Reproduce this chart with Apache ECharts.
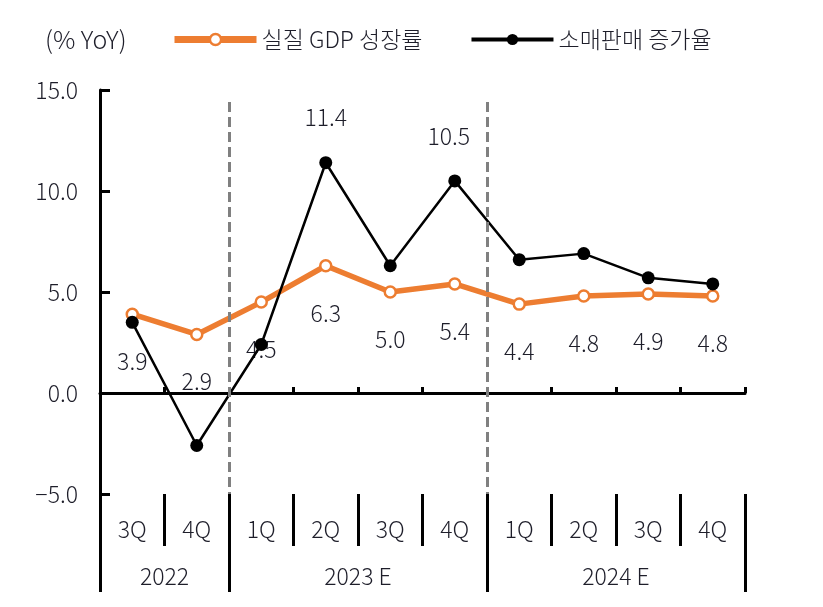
<!DOCTYPE html>
<html>
<head>
<meta charset="utf-8">
<script src="https://cdn.jsdelivr.net/npm/echarts@6/dist/echarts.min.js"></script>
<style>
html,body{margin:0;padding:0;background:#fff;}
#c{width:823px;height:607px;}
</style>
</head>
<body>
<div id="c"></div>
<script>
const quarters = ['3Q','4Q','1Q','2Q','3Q','4Q','1Q','2Q','3Q','4Q'];
const years = ['2022','2023 E','2024 E'];
const yearSpans = [2, 4, 4];
const gdpName = '실질 GDP 성장률';
const retailName = '소매판매 증가율';
const gdp = [3.9, 2.9, 4.5, 6.3, 5.0, 5.4, 4.4, 4.8, 4.9, 4.8];
const retail = [3.5, -2.6, 2.4, 11.4, 6.3, 10.5, 6.6, 6.9, 5.7, 5.4];
const retailLabeledIdx = [3, 5];
const yMin = -5, yMax = 15, yStep = 5;
const unitText = '(% YoY)';

const FONT = "'Noto Sans CJK KR', 'Noto Sans', sans-serif";
const FW = 300;
const FS = 23;
const TXT = '#1e1e2a';
const ORANGE = '#ED7D31';

// year boundaries and label centres in category units
const yearBounds = [0];
yearSpans.forEach(s => yearBounds.push(yearBounds[yearBounds.length - 1] + s));
const yearCenters = yearSpans.map((s, i) => yearBounds[i] + s / 2);
const yearLabelMap = {};
yearCenters.forEach((c, i) => { yearLabelMap[c] = years[i]; });
const dashedAt = yearBounds.slice(1, -1);

const chart = echarts.init(document.getElementById('c'), null, {renderer: 'canvas'});

const txt = (extra) => Object.assign({fontFamily: FONT, fontSize: FS, fontWeight: FW, color: TXT}, extra || {});

const option = {
  animation: false,
  backgroundColor: '#fff',
  textStyle: {fontFamily: FONT, color: TXT},
  title: {
    text: unitText, left: 45, top: 27, padding: 0,
    textStyle: txt({fontSize: 25})
  },
  legend: {
    left: 171, top: 28, padding: 0,
    itemWidth: 82, itemHeight: 14, itemGap: 47,
    textStyle: txt(),
    data: [
      {name: gdpName, lineStyle: {width: 7, color: ORANGE}, itemStyle: {color: '#fff', borderColor: ORANGE, borderWidth: 2.5}},
      {name: retailName, lineStyle: {width: 4, color: '#000'}, itemStyle: {color: '#000'}}
    ]
  },
  grid: {left: 100, right: 78, top: 90, bottom: 113, containLabel: false, outerBoundsMode: 'none'},
  xAxis: [
    {
      type: 'category', data: quarters, boundaryGap: true, position: 'bottom',
      axisLine: {show: true, onZero: true, lineStyle: {color: '#000', width: 3}},
      axisTick: {show: true, inside: true, length: 6, lineStyle: {color: '#000', width: 3}},
      axisLabel: {show: false}, splitLine: {show: false}
    },
    {
      type: 'category', data: quarters, boundaryGap: true, position: 'bottom',
      axisLine: {show: false, onZero: false},
      axisTick: {show: true, inside: false, length: 52, lineStyle: {color: '#000', width: 3}},
      axisLabel: txt({show: true, margin: 24}),
      splitLine: {show: false}
    },
    {
      type: 'value', min: 0, max: quarters.length, position: 'bottom',
      axisLine: {show: false, onZero: false},
      axisTick: {show: true, inside: false, length: 98, customValues: yearBounds, lineStyle: {color: '#000', width: 3}},
      axisLabel: txt({show: true, margin: 71, customValues: yearCenters,
        formatter: v => yearLabelMap[v] || ''}),
      splitLine: {show: false}
    }
  ],
  yAxis: {
    type: 'value', min: yMin, max: yMax, interval: yStep,
    axisLine: {show: true, onZero: false, lineStyle: {color: '#000', width: 3}},
    axisTick: {show: true, inside: true, length: 10, lineStyle: {color: '#000', width: 3}},
    axisLabel: txt({margin: 22,
      formatter: v => (v < 0 ? '\u2212' + Math.abs(v).toFixed(1) : v.toFixed(1))}),
    splitLine: {show: false}
  },
  series: [
    {
      name: gdpName, type: 'line', xAxisIndex: 0, data: gdp,
      symbol: 'circle', symbolSize: 11,
      itemStyle: {color: '#fff', borderColor: ORANGE, borderWidth: 2.5},
      lineStyle: {color: ORANGE, width: 5.5},
      label: txt({show: true, position: 'bottom', distance: 29,
        formatter: p => p.value.toFixed(1)}),
      z: 3
    },
    {
      name: retailName, type: 'line', xAxisIndex: 0,
      data: retail.map((v, i) => retailLabeledIdx.includes(i)
        ? {value: v, label: txt({show: true, position: 'top', distance: 27,
            offset: [i === 5 ? -6 : 0, 0],
            formatter: p => p.value.toFixed(1)})}
        : v),
      symbol: 'circle', symbolSize: 13,
      itemStyle: {color: '#000'},
      lineStyle: {color: '#000', width: 2.5},
      z: 4
    },
    {
      name: 'divider', type: 'line', xAxisIndex: 2, data: [],
      silent: true, legendHoverLink: false,
      markLine: {
        silent: true, symbol: ['none', 'none'], animation: false,
        label: {show: false},
        lineStyle: {color: '#808080', width: 3, type: [10, 5]},
        data: dashedAt.map(x => [{coord: [x, 14.4]}, {coord: [x, yMin]}])
      },
      z: 2
    }
  ]
};
chart.setOption(option);
</script>
</body>
</html>
